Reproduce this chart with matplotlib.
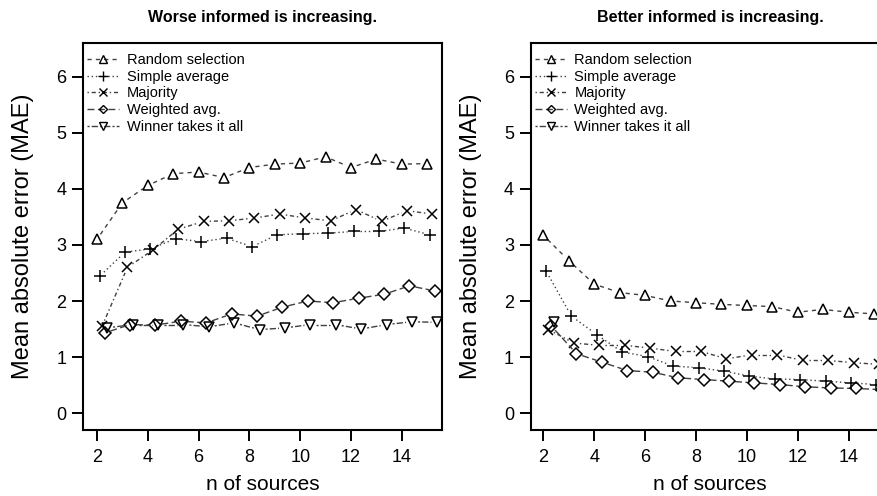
import numpy as np
import matplotlib
matplotlib.use("Agg")
import matplotlib.pyplot as plt
from matplotlib.lines import Line2D

# n of sources
n_sources = [2, 3, 4, 5, 6, 7, 8, 9, 10, 11, 12, 13, 14, 15]
labels = ["Random selection", "Simple average", "Majority", "Weighted avg.", "Winner takes it all"]
titles = ["Worse informed is increasing.", "Better informed is increasing."]

# left panel: worse informed is increasing
worse_random   = [3.10, 3.75, 4.06, 4.27, 4.30, 4.20, 4.38, 4.44, 4.46, 4.57, 4.38, 4.53, 4.44, 4.45]
worse_simple   = [2.44, 2.87, 2.93, 3.11, 3.06, 3.12, 2.97, 3.18, 3.20, 3.21, 3.24, 3.24, 3.30, 3.18]
worse_majority = [1.55, 2.60, 2.91, 3.28, 3.42, 3.43, 3.48, 3.55, 3.48, 3.43, 3.63, 3.42, 3.61, 3.55]
worse_weighted = [1.43, 1.58, 1.57, 1.64, 1.61, 1.77, 1.73, 1.89, 2.00, 1.97, 2.05, 2.12, 2.27, 2.18]
worse_winner   = [1.52, 1.58, 1.58, 1.58, 1.54, 1.61, 1.49, 1.52, 1.58, 1.58, 1.50, 1.58, 1.63, 1.62]

# right panel: better informed is increasing
better_random   = [3.17, 2.72, 2.30, 2.15, 2.10, 2.00, 1.97, 1.94, 1.92, 1.90, 1.80, 1.85, 1.80, 1.77]
better_simple   = [2.54, 1.73, 1.40, 1.09, 1.01, 0.84, 0.81, 0.75, 0.66, 0.61, 0.60, 0.57, 0.54, 0.51]
better_majority = [1.49, 1.25, 1.21, 1.21, 1.16, 1.10, 1.10, 0.97, 1.04, 1.04, 0.94, 0.94, 0.90, 0.87]
better_weighted = [1.56, 1.06, 0.91, 0.76, 0.73, 0.63, 0.60, 0.57, 0.54, 0.51, 0.47, 0.45, 0.44, 0.42]
better_winner   = [1.62] + [np.nan] * 13   # only the first point shows up

offsets = [0.0, 0.1, 0.2, 0.3, 0.4]
markers = ["^", "+", "x", "D", "v"]
msizes = [7.5, 9, 7, 6, 7.5]
dashes = [(0, (3, 3)), (0, (1, 2)), (0, (1, 2, 3, 2)), (0, (5, 2.5)), (0, (1.5, 1.5, 4.5, 1.5))]

plt.rcParams["font.family"] = ["Liberation Sans", "DejaVu Sans"]

fig = plt.figure(figsize=(8.78, 4.96), dpi=100)
ax1 = fig.add_axes([83 / 878, 1 - 430 / 496, 359 / 878, 387 / 496])
ax2 = fig.add_axes([530.7 / 878, 1 - 430 / 496, 359 / 878, 387 / 496])


def gapped(ax, xs, ys, gap, **kw):
    # R type="b": segments stop short of the points
    pts = ax.transData.transform(np.column_stack([xs, ys]))
    inv = ax.transData.inverted()
    for p, q in zip(pts[:-1], pts[1:]):
        if np.isnan(p).any() or np.isnan(q).any():
            continue
        d = q - p
        L = np.hypot(*d)
        if L <= 2 * gap:
            continue
        u = d / L
        a = inv.transform(p + u * gap)
        b = inv.transform(q - u * gap)
        ax.plot([a[0], b[0]], [a[1], b[1]], **kw)


panels = [
    (ax1, [worse_random, worse_simple, worse_majority, worse_weighted, worse_winner], (1.45, 15.58)),
    (ax2, [better_random, better_simple, better_majority, better_weighted, better_winner], (1.50, 15.62)),
]

for k, (ax, series, xl) in enumerate(panels):
    ax.set_xlim(*xl)
    ax.set_ylim(-0.30, 6.60)
    for i, ys in enumerate(series):
        xs = np.array(n_sources) + offsets[i]
        ys = np.array(ys, dtype=float)
        gapped(ax, xs, ys, 6, color="0.25", lw=1.0, linestyle=dashes[i])
        ax.plot(xs, ys, linestyle="none", marker=markers[i], ms=msizes[i],
                mfc="none", mec="black", mew=1.1)

    handles = [Line2D([], [], color="0.25", lw=1.0, linestyle=dashes[i], marker=markers[i],
                      ms=msizes[i] * 0.75, mfc="none", mec="black", mew=1.0)
               for i in range(5)]
    ax.legend(handles, labels, loc="upper left", bbox_to_anchor=(0.0, 0.985), frameon=False,
              fontsize=10.5, handlelength=2.2, handletextpad=0.5, labelspacing=0.18,
              borderaxespad=0.2, borderpad=0.1)

    ax.set_xticks([2, 4, 6, 8, 10, 12, 14])
    ax.set_yticks([0, 1, 2, 3, 4, 5, 6])
    ax.tick_params(direction="out", length=8, width=1.4, labelsize=13, pad=4)
    ax.tick_params(axis="x", pad=6)
    for s in ax.spines.values():
        s.set_linewidth(1.5)

    ax.set_xlabel("n of sources", fontsize=15)
    ax.xaxis.set_label_coords(0.5, -55 / 387)
    ax.xaxis.label.set_va("center")
    ax.set_ylabel("Mean absolute error (MAE)", fontsize=17)
    ax.yaxis.set_label_coords(-60 / 359, 0.5)
    ax.yaxis.label.set_va("center")
    ax.yaxis.label.set_ha("center")

    ax.set_title(titles[k], fontsize=11.5, fontweight="bold", pad=15)

fig.savefig("out.png", dpi=100, facecolor="white")
